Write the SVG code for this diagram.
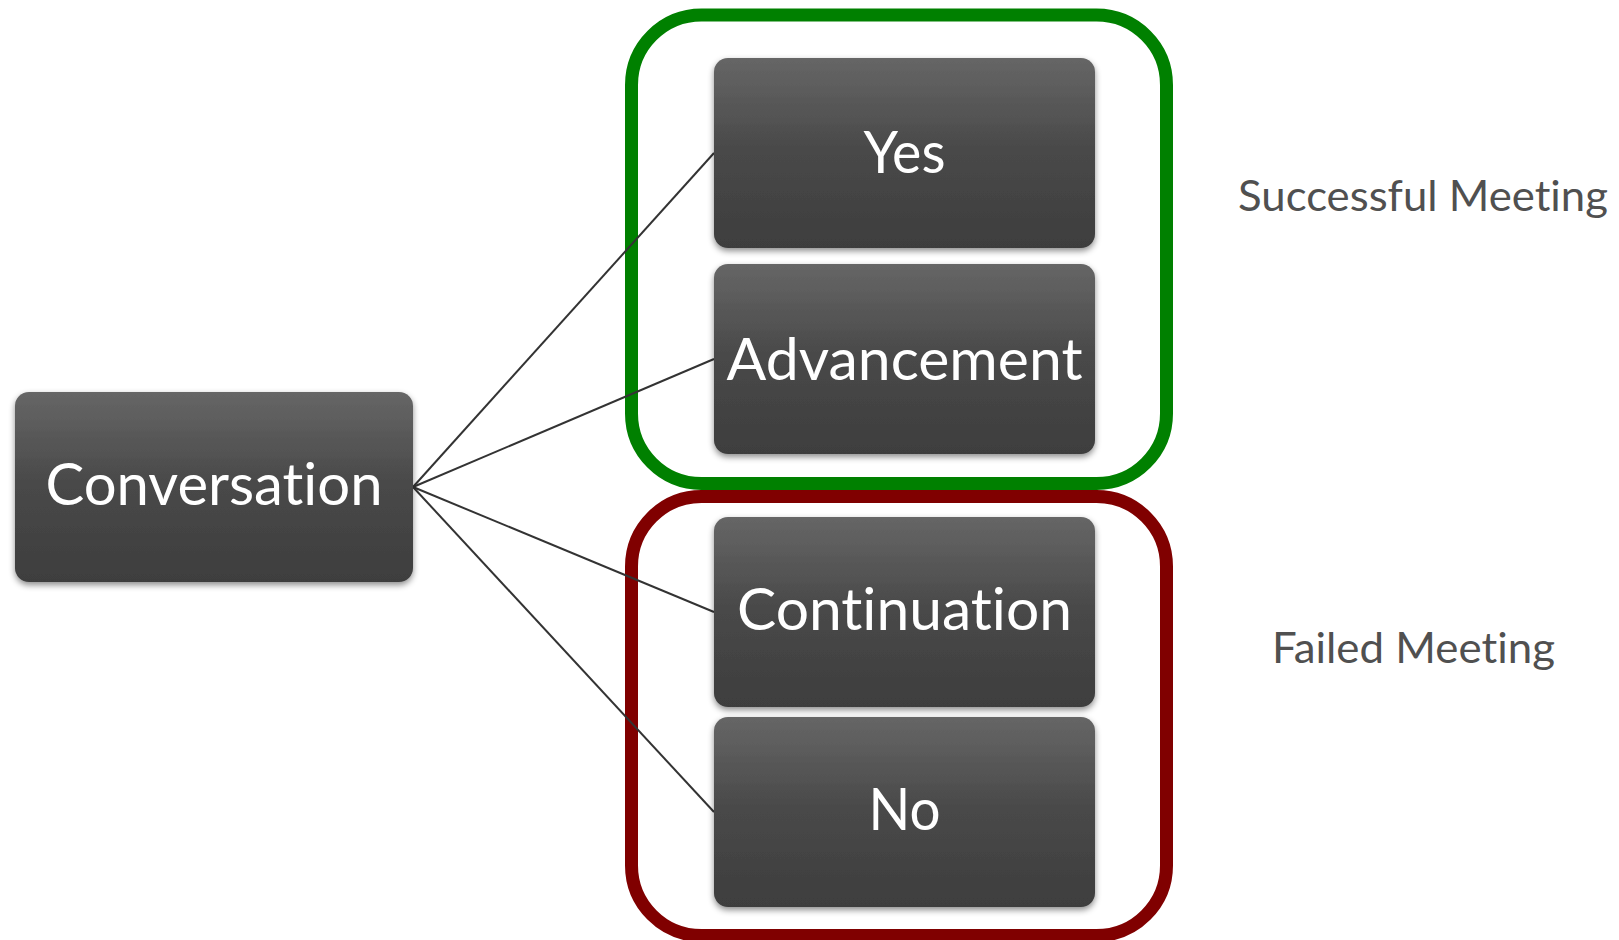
<svg xmlns="http://www.w3.org/2000/svg" width="1619" height="940" viewBox="0 0 1619 940">
<defs>
<linearGradient id="boxGrad" x1="0" y1="0" x2="0" y2="1">
<stop offset="0" stop-color="#666666"/>
<stop offset="0.5" stop-color="#484848"/>
<stop offset="1" stop-color="#3e3e3e"/>
</linearGradient>
<filter id="shadow" x="-10%" y="-10%" width="120%" height="130%">
<feDropShadow dx="0" dy="3" stdDeviation="3" flood-color="#000" flood-opacity="0.45"/>
</filter>
</defs>
<style>
.box { fill: url(#boxGrad); filter: url(#shadow); }
.lbl { font-family: Lato, "Open Sans", "Liberation Sans", sans-serif; font-size: 58px; fill: #ffffff; text-anchor: middle; font-variant-ligatures: none; font-feature-settings: "liga" 0, "clig" 0; }
.side { font-family: Lato, "Open Sans", "Liberation Sans", sans-serif; font-size: 43px; fill: #505050; font-variant-ligatures: none; font-feature-settings: "liga" 0, "clig" 0; }
.conn { stroke: #333333; stroke-width: 2; fill: none; }
.grp { fill: none; stroke-width: 13; }
</style>
<rect width="1619" height="940" fill="#ffffff"/>
<g id="group-success">
<rect class="grp" x="631.5" y="15" width="535" height="468.5" rx="70" ry="70" stroke="#008000"/>
</g>
<g id="group-failed">
<rect class="grp" x="631.5" y="496.5" width="535" height="439" rx="70" ry="70" stroke="#800000"/>
</g>
<g id="connectors">
<line class="conn" x1="413" y1="487" x2="714" y2="153"/>
<line class="conn" x1="413" y1="487" x2="714" y2="359"/>
<line class="conn" x1="413" y1="487" x2="714" y2="612"/>
<line class="conn" x1="413" y1="487" x2="714" y2="812"/>
</g>
<g id="node-conversation">
<rect class="box" x="15" y="392" width="398" height="190" rx="14" ry="14"/>
<text class="lbl" x="214" y="505" textLength="337" lengthAdjust="spacingAndGlyphs">Conversation</text>
</g>
<g id="node-yes">
<rect class="box" x="714" y="58" width="381" height="190" rx="14" ry="14"/>
<text class="lbl" x="904.5" y="173" textLength="82" lengthAdjust="spacingAndGlyphs">Yes</text>
</g>
<g id="node-advancement">
<rect class="box" x="714" y="264" width="381" height="190" rx="14" ry="14"/>
<text class="lbl" x="904.5" y="380" textLength="356" lengthAdjust="spacingAndGlyphs">Advancement</text>
</g>
<g id="node-continuation">
<rect class="box" x="714" y="517" width="381" height="190" rx="14" ry="14"/>
<text class="lbl" x="904.5" y="630" textLength="335" lengthAdjust="spacingAndGlyphs">Continuation</text>
</g>
<g id="node-no">
<rect class="box" x="714" y="717" width="381" height="190" rx="14" ry="14"/>
<text class="lbl" x="904.5" y="830" textLength="72" lengthAdjust="spacingAndGlyphs">No</text>
</g>
<g id="label-successful">
<text class="side" x="1238" y="211" textLength="370" lengthAdjust="spacingAndGlyphs">Successful Meeting</text>
</g>
<g id="label-failed">
<text class="side" x="1272" y="663" textLength="283" lengthAdjust="spacingAndGlyphs">Failed Meeting</text>
</g>
</svg>
